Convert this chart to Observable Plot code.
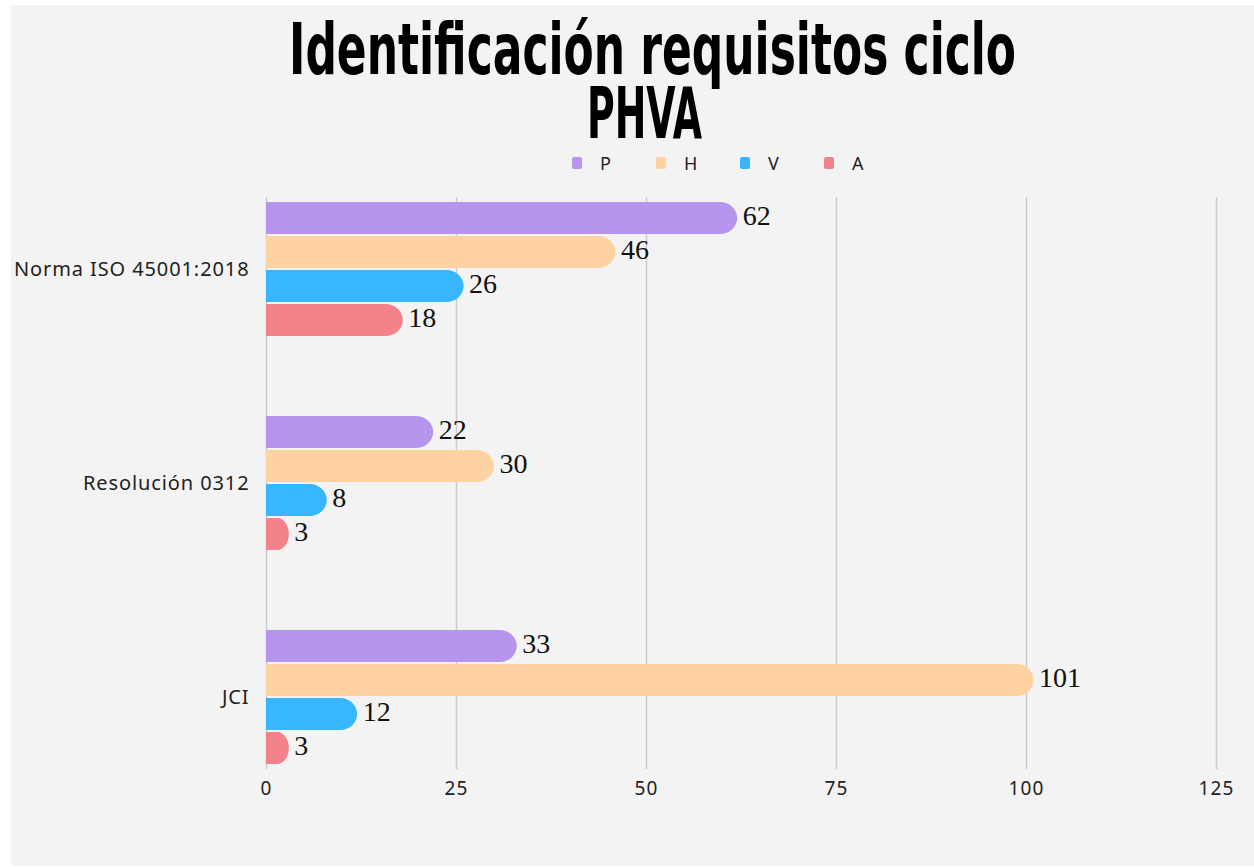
<!DOCTYPE html>
<html><head><meta charset="utf-8">
<script src="https://cdn.jsdelivr.net/npm/d3@7"></script>
<script src="https://cdn.jsdelivr.net/npm/@observablehq/plot@0.6"></script>
<style>
body{margin:0;background:#fff;width:1254px;height:867px;position:relative;overflow:hidden;font-family:"Noto Sans",sans-serif}
#bg{position:absolute;left:11px;top:5px;width:1243px;height:861px;background:#f3f3f3}
#grid,#chart{position:absolute;left:0;top:0}
#title{position:absolute;left:0;top:17px;width:1254px;font-family:"DejaVu Sans Condensed","DejaVu Sans",sans-serif;font-weight:bold;font-size:72px;line-height:64px;color:#000;white-space:nowrap}
#title span{display:inline-block;position:relative;transform-origin:50% 50%}
#legend{position:absolute;left:572px;top:153px;display:flex;font-size:18px;color:#222}
#legend .it{width:84px;display:flex;align-items:center;height:20px}
#legend .sw{width:10px;height:12px;border-radius:2px;margin-right:18px}
#chart g[aria-label="fy-axis tick label"]{font-size:20px !important;letter-spacing:0.9px}
#chart g[aria-label="x-axis tick label"]{font-size:19px !important;letter-spacing:1.2px}
</style></head>
<body>
<div id="bg"></div>
<div id="title"><span id="s1"></span><br><span id="s2"></span></div>
<div id="legend"></div>
<div id="grid"></div>
<div id="chart"></div>
<script>
const titleLines = ["Identificación requisitos ciclo", "PHVA"];
const categories = ["Norma ISO 45001:2018", "Resolución 0312", "JCI"];
const series = ["P", "H", "V", "A"];
const P = [62, 22, 33];
const H = [46, 30, 101];
const V = [26, 8, 12];
const A = [18, 3, 3];
const colors = ["#b795ee", "#fed3a1", "#38b6ff", "#f4828a"];
const xTicks = [0, 25, 50, 75, 100, 125];

// title: two lines in one text block, condensed to the reference widths
const s1 = document.getElementById("s1"), s2 = document.getElementById("s2");
s1.textContent = titleLines[0]; s2.textContent = titleLines[1];
[[s1, 727, 653], [s2, 115, 645]].forEach(([el, w, cx]) => {
  const r = el.getBoundingClientRect();
  el.style.left = (cx - r.width / 2) + "px";
  el.style.transform = `scaleX(${w / r.width})`;
});

// legend
const lg = document.getElementById("legend");
series.forEach((s, i) => {
  const it = document.createElement("div"); it.className = "it";
  const sw = document.createElement("div"); sw.className = "sw"; sw.style.background = colors[i];
  const tx = document.createElement("span"); tx.textContent = s;
  it.appendChild(sw); it.appendChild(tx); lg.appendChild(it);
});

const vals = [P, H, V, A];
const rows = categories.flatMap((c, i) => series.map((s, j) => ({category: c, series: s, value: vals[j][i]})));

const frame = {width: 1254, height: 867, marginTop: 197, marginBottom: 98, marginLeft: 266, marginRight: 38};

// continuous vertical grid lines across all groups
const grid = Plot.plot({
  ...frame,
  style: {background: "transparent"},
  x: {domain: [0, 125], axis: null},
  marks: [Plot.ruleX(xTicks, {stroke: "#cccccc", strokeWidth: 1.5})]
});
document.getElementById("grid").appendChild(grid);

const chart = Plot.plot({
  ...frame,
  style: {background: "transparent", fontFamily: "Noto Sans", color: "#222"},
  x: {domain: [0, 125]},
  fy: {domain: categories, paddingInner: 0.336, paddingOuter: 0},
  y: {domain: series, axis: null, padding: 0.07},
  color: {domain: series, range: colors},
  marks: [
    Plot.axisX({ticks: xTicks, label: null, tickSize: 0, tickPadding: 13, fill: "#222"}),
    Plot.axisFy({anchor: "left", label: null, tickSize: 0, tickPadding: 17, fill: "#222"}),
    Plot.barX(rows, {x: "value", y: "series", fy: "category", fill: "series", rx: 17}),
    Plot.barX(rows, {x1: 0, x2: d => d.value / 2, y: "series", fy: "category", fill: "series"}),
    Plot.text(rows, {x: "value", y: "series", fy: "category", text: "value", textAnchor: "start", dx: 5, dy: -2,
      fontFamily: "Liberation Serif", fontSize: 28, letterSpacing: 1, fill: "#111"})
  ]
});
document.getElementById("chart").appendChild(chart);
</script>
</body></html>
